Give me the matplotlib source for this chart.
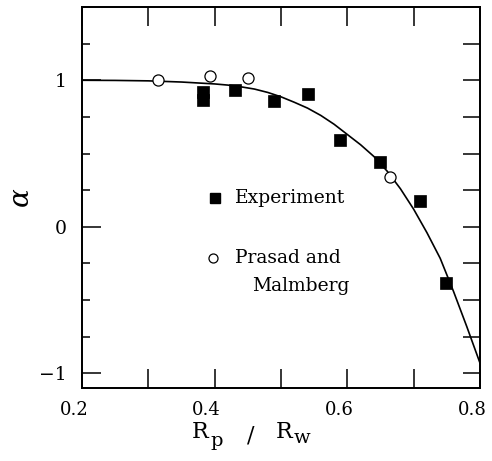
import matplotlib
matplotlib.use("Agg")
import matplotlib.pyplot as plt
import matplotlib.transforms as mtransforms
from matplotlib.ticker import MultipleLocator, FixedLocator

# Theory curve
curve_x = [0.20, 0.25, 0.30, 0.35, 0.40, 0.42, 0.44, 0.46, 0.48, 0.50, 0.52,
           0.54, 0.56, 0.58, 0.60, 0.62, 0.64, 0.66, 0.68, 0.70, 0.72, 0.74,
           0.76, 0.78, 0.80]
curve_y = [1.000, 0.999, 0.996, 0.988, 0.975, 0.967, 0.955, 0.940, 0.917,
           0.887, 0.850, 0.810, 0.760, 0.700, 0.630, 0.560, 0.480, 0.380,
           0.260, 0.120, -0.040, -0.215, -0.440, -0.680, -0.930]

# Experiment (filled squares)
exp_x = [0.382, 0.382, 0.431, 0.490, 0.540, 0.589, 0.649, 0.710, 0.749]
exp_y = [0.920, 0.868, 0.932, 0.859, 0.903, 0.592, 0.444, 0.179, -0.383]

# Prasad and Malmberg (open circles)
pm_x = [0.315, 0.393, 0.451, 0.664]
pm_y = [1.000, 1.027, 1.014, 0.342]

x_major = [0.2, 0.4, 0.6, 0.8]
x_labels = ["0.2", "0.4", "0.6", "0.8"]
y_major = [-1, 0, 1]
y_labels = ["\u22121", "0", "1"]

plt.rcParams['font.family'] = ['DejaVu Serif']
plt.rcParams['mathtext.fontset'] = 'dejavuserif'

W, H = 492, 461
fig = plt.figure(figsize=(W / 100, H / 100), dpi=100)
ax = fig.add_axes([82 / W, 1 - 388 / H, (480 - 82) / W, (388 - 7) / H])

ax.plot(curve_x, curve_y, color='black', lw=1.2, zorder=2)
ax.plot(exp_x, exp_y, linestyle='none', marker='s', ms=8, mfc='black',
        mec='black', mew=0.5, zorder=3)
ax.plot(pm_x, pm_y, linestyle='none', marker='o', ms=8, mfc='white',
        mec='black', mew=0.9, zorder=3)

# in-plot legend
ax.plot([0.4005], [0.195], linestyle='none', marker='s', ms=7, mfc='black', mec='black')
ax.text(0.431, 0.197, "Experiment", fontsize=13.5, va='center', ha='left')
ax.plot([0.398], [-0.213], linestyle='none', marker='o', ms=6.5, mfc='white',
        mec='black', mew=0.9)
ax.text(0.431, -0.213, "Prasad and", fontsize=13.5, va='center', ha='left')
ax.text(0.456, -0.406, "Malmberg", fontsize=13.5, va='center', ha='left')

ax.set_xlim(0.2, 0.8)
ax.set_ylim(-1.1, 1.5)

ax.xaxis.set_major_locator(FixedLocator(x_major))
ax.set_xticklabels(x_labels)
ax.xaxis.set_minor_locator(FixedLocator([0.3, 0.5, 0.7]))
ax.yaxis.set_major_locator(FixedLocator(y_major))
ax.set_yticklabels(y_labels)
ax.yaxis.set_minor_locator(MultipleLocator(0.25))

ax.tick_params(axis='x', which='both', direction='in', top=True, bottom=True,
               length=14, width=1.1, labelsize=13, pad=9)
ax.tick_params(axis='y', which='major', direction='in', left=True, right=False,
               length=14, width=1.1, labelsize=13.5, pad=11)
ax.tick_params(axis='y', which='minor', direction='in', left=True, right=False,
               length=6, width=1.1)

# the original's x tick labels sit slightly left of their ticks
shift = mtransforms.ScaledTranslation(-8 / 100, 0, fig.dpi_scale_trans)
for lbl in ax.get_xticklabels():
    lbl.set_transform(lbl.get_transform() + shift)

ax2 = ax.twinx()
ax2.set_ylim(-1.1, 1.5)
ax2.yaxis.set_major_locator(MultipleLocator(0.25))
ax2.tick_params(axis='y', which='both', direction='in', length=12, width=1.1,
                labelright=False)
ax2.yaxis.set_minor_locator(FixedLocator([]))

for a in (ax, ax2):
    for s in a.spines.values():
        s.set_linewidth(1.3)

# x-axis label built from pieces (large subscripts as in the original)
def ftext(px, py, s, size):
    fig.text(px / W, 1 - py / H, s, fontsize=size, ha='left', va='baseline')

ftext(192, 438, "R", 16)
ftext(210, 446, "p", 14)
ftext(247, 441, "/", 16)
ftext(276, 438, "R", 16)
ftext(294, 443, "w", 14)

ax.set_ylabel(r"$\alpha$", fontsize=20, labelpad=3)

fig.savefig("out.png", dpi=100)
